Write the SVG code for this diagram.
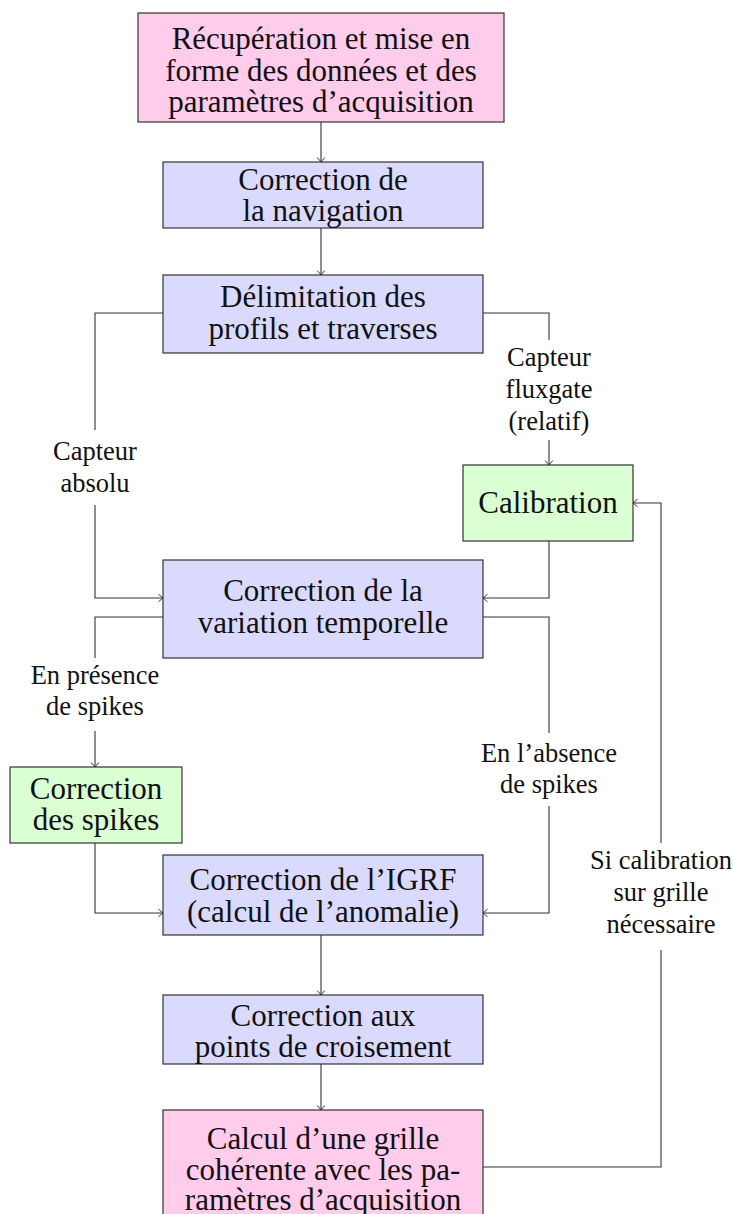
<svg xmlns="http://www.w3.org/2000/svg" width="734" height="1214" viewBox="0 0 734 1214">
<style>
.box{stroke:#333;stroke-width:1.2}
.pink{fill:#FFCCEB}
.blue{fill:#DADAFF}
.green{fill:#DAFFD3}
.t{font-family:"Liberation Serif",serif;font-size:31px;fill:#111;text-anchor:middle}
.l{font-family:"Liberation Serif",serif;font-size:26.5px;fill:#111;text-anchor:middle}
.c{fill:none;stroke:#333;stroke-width:1.1}
</style>
<defs>
<marker id="ar" markerUnits="userSpaceOnUse" viewBox="-6 -5 7 10" refX="0" refY="0" markerWidth="7" markerHeight="10" orient="auto">
<path d="M-4.5,-3.8 Q-1.5,-1.2 0,0 Q-1.5,1.2 -4.5,3.8" fill="none" stroke="#333" stroke-width="1"/>
</marker>
</defs>
<rect width="734" height="1214" fill="#fff"/>
<g id="connectors">
<path class="c" d="M321,122 V162" marker-end="url(#ar)"/>
<path class="c" d="M321,228 V275" marker-end="url(#ar)"/>
<path class="c" d="M163,313 H95 V430"/>
<path class="c" d="M95,505 V598 H163" marker-end="url(#ar)"/>
<path class="c" d="M483,313 H549 V340"/>
<path class="c" d="M549,440 V465" marker-end="url(#ar)"/>
<path class="c" d="M549,541 V598 H483" marker-end="url(#ar)"/>
<path class="c" d="M163,617 H95 V658"/>
<path class="c" d="M95,731 V767" marker-end="url(#ar)"/>
<path class="c" d="M483,617 H549 V733"/>
<path class="c" d="M549,806 V913 H483" marker-end="url(#ar)"/>
<path class="c" d="M95,843 V913 H163" marker-end="url(#ar)"/>
<path class="c" d="M321,935 V995" marker-end="url(#ar)"/>
<path class="c" d="M321,1064 V1110" marker-end="url(#ar)"/>
<path class="c" d="M483,1167 H661 V950"/>
<path class="c" d="M661,843 V503 H633" marker-end="url(#ar)"/>
</g>
<g id="labels">
<text class="l" x="549" y="366">Capteur</text>
<text class="l" x="549" y="398">fluxgate</text>
<text class="l" x="549" y="430">(relatif)</text>
<text class="l" x="95" y="460">Capteur</text>
<text class="l" x="95" y="492">absolu</text>
<text class="l" x="95" y="684">En présence</text>
<text class="l" x="95" y="715">de spikes</text>
<text class="l" x="549" y="762">En l’absence</text>
<text class="l" x="549" y="793">de spikes</text>
<text class="l" x="661" y="869">Si calibration</text>
<text class="l" x="661" y="901">sur grille</text>
<text class="l" x="661" y="933">nécessaire</text>
</g>
<g id="n1">
<rect class="box pink" x="138" y="13" width="366" height="109"/>
<text class="t" x="321" y="49">Récupération et mise en</text>
<text class="t" x="321" y="80.5">forme des données et des</text>
<text class="t" x="321" y="112">paramètres d’acquisition</text>
</g>
<g id="n2">
<rect class="box blue" x="163" y="162" width="320" height="66"/>
<text class="t" x="323" y="190">Correction de</text>
<text class="t" x="323" y="221">la navigation</text>
</g>
<g id="n3">
<rect class="box blue" x="163" y="275" width="320" height="78"/>
<text class="t" x="323" y="307">Délimitation des</text>
<text class="t" x="323" y="338.5">profils et traverses</text>
</g>
<g id="n4">
<rect class="box green" x="463" y="465" width="170" height="76"/>
<text class="t" x="548" y="513">Calibration</text>
</g>
<g id="n5">
<rect class="box blue" x="163" y="560" width="320" height="98"/>
<text class="t" x="323" y="601">Correction de la</text>
<text class="t" x="323" y="633">variation temporelle</text>
</g>
<g id="n6">
<rect class="box green" x="10" y="767" width="172" height="76"/>
<text class="t" x="96" y="799">Correction</text>
<text class="t" x="96" y="830">des spikes</text>
</g>
<g id="n7">
<rect class="box blue" x="163" y="855" width="320" height="80"/>
<text class="t" x="323" y="890">Correction de l’IGRF</text>
<text class="t" x="323" y="922">(calcul de l’anomalie)</text>
</g>
<g id="n8">
<rect class="box blue" x="163" y="995" width="320" height="69"/>
<text class="t" x="323" y="1026">Correction aux</text>
<text class="t" x="323" y="1057">points de croisement</text>
</g>
<g id="n9">
<rect class="box pink" x="163" y="1110" width="320" height="130"/>
<text class="t" x="323" y="1149">Calcul d’une grille</text>
<text class="t" x="323" y="1180">cohérente avec les pa-</text>
<text class="t" x="323" y="1210">ramètres d’acquisition</text>
</g>
</svg>
